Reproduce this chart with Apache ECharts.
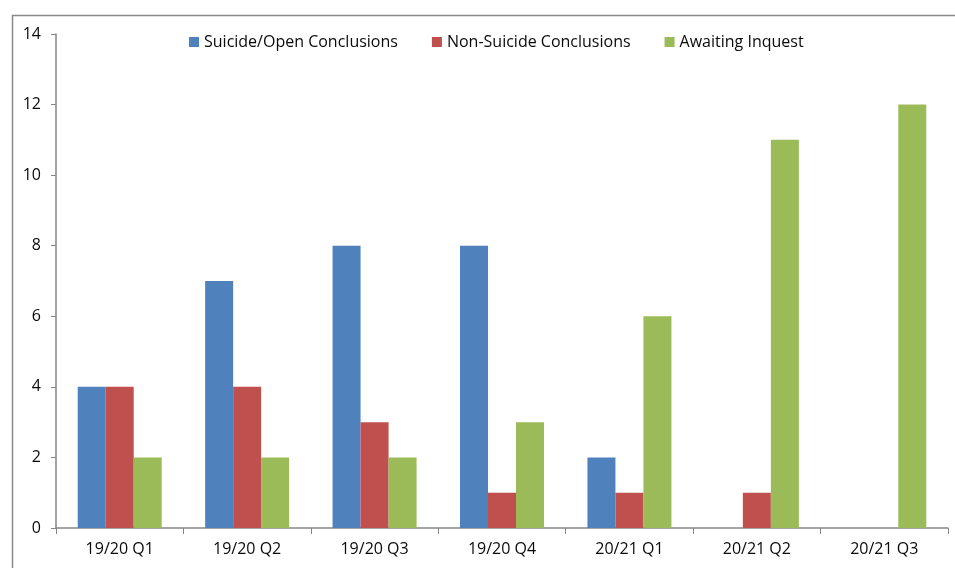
<!DOCTYPE html>
<html>
<head>
<meta charset="utf-8">
<script src="https://cdn.jsdelivr.net/npm/echarts@6/dist/echarts.min.js"></script>
<style>
  html, body { margin: 0; padding: 0; background: #fff; }
  #chart { width: 955px; height: 568px; }
</style>
</head>
<body>
<div id="chart"></div>
<script>
  // quarters on the x axis
  var quarters = ['19/20 Q1', '19/20 Q2', '19/20 Q3', '19/20 Q4', '20/21 Q1', '20/21 Q2', '20/21 Q3'];
  var suicideOpen = [4, 7, 8, 8, 2, 0, 0];
  var nonSuicide = [4, 4, 3, 1, 1, 1, 0];
  var awaiting = [2, 2, 2, 3, 6, 11, 12];
  var yTicks = [0, 2, 4, 6, 8, 10, 12, 14];

  var font = 'Open Sans, Noto Sans, sans-serif';
  var chart = echarts.init(document.getElementById('chart'));

  chart.setOption({
    animation: false,
    color: ['#4F81BD', '#C0504D', '#9BBB59'],
    graphic: [{
      // outer chart frame (runs off the right and bottom edge)
      type: 'rect',
      left: 10, top: 13,
      shape: { width: 1000, height: 600 },
      style: { fill: 'none', stroke: '#8a8a8a', lineWidth: 1.5 },
      silent: true
    }],
    legend: {
      top: 29,
      left: 184,
      itemWidth: 10,
      itemHeight: 10,
      itemGap: 34,
      icon: 'rect',
      textStyle: { fontFamily: font, fontSize: 16, color: '#0a0a0a' },
      data: ['Suicide/Open Conclusions', 'Non-Suicide Conclusions', 'Awaiting Inquest']
    },
    grid: { left: 56, right: 7, top: 34, bottom: 40, containLabel: false },
    xAxis: {
      type: 'category',
      data: quarters,
      axisLine: { lineStyle: { color: '#868686', width: 1.5 } },
      axisTick: { show: true, length: 6, lineStyle: { color: '#868686' } },
      axisLabel: { fontFamily: font, fontSize: 16, color: '#0a0a0a', margin: 13 }
    },
    yAxis: {
      type: 'value',
      min: yTicks[0],
      max: yTicks[yTicks.length - 1],
      interval: 2,
      splitLine: { show: false },
      axisLine: { show: true, lineStyle: { color: '#868686', width: 1.5 } },
      axisTick: { show: true, length: 5, lineStyle: { color: '#868686' } },
      axisLabel: { fontFamily: font, fontSize: 16, color: '#0a0a0a', margin: 15 }
    },
    series: [
      { name: 'Suicide/Open Conclusions', type: 'bar', data: suicideOpen, barWidth: 28, barGap: '0%' },
      { name: 'Non-Suicide Conclusions', type: 'bar', data: nonSuicide, barWidth: 28, barGap: '0%' },
      { name: 'Awaiting Inquest', type: 'bar', data: awaiting, barWidth: 28, barGap: '0%' }
    ]
  });
</script>
</body>
</html>
